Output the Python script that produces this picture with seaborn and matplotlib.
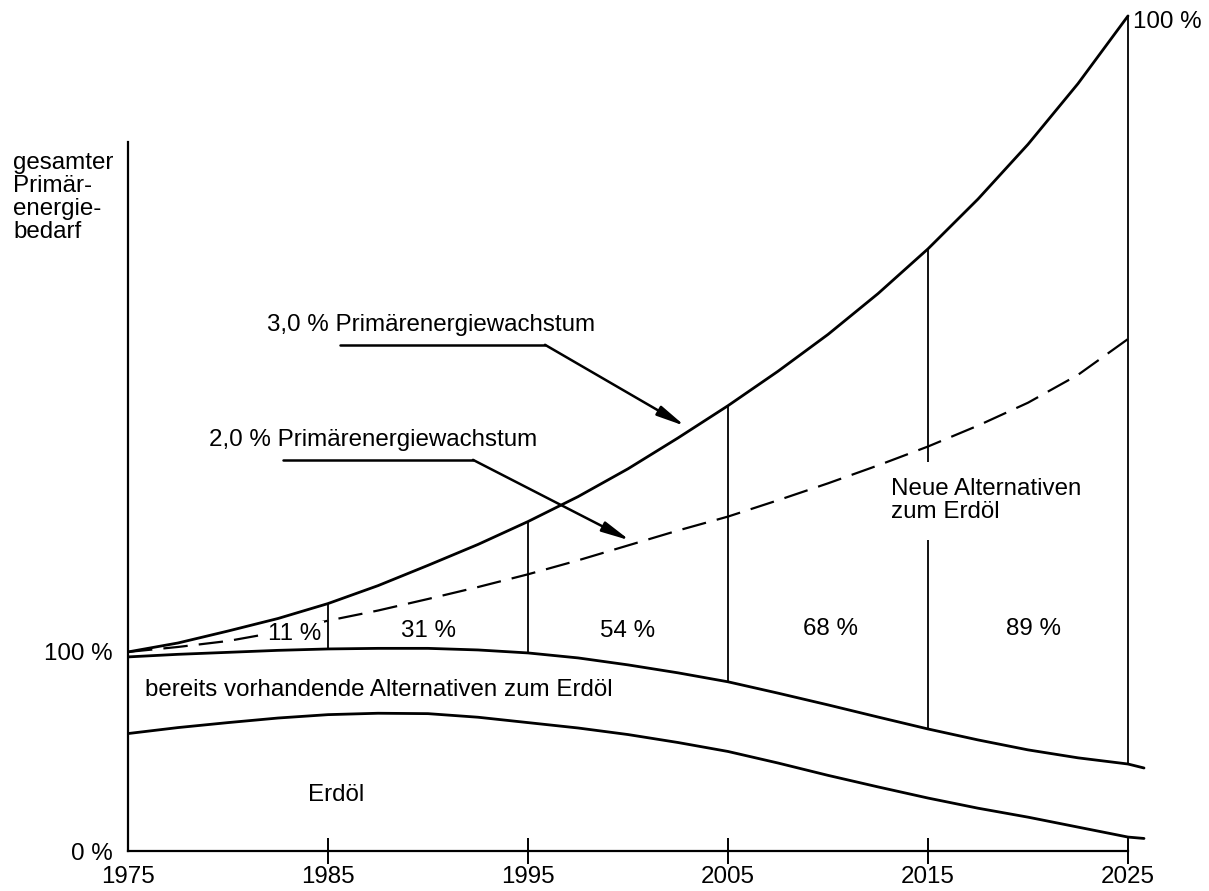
import matplotlib
matplotlib.use("Agg")
import matplotlib.pyplot as plt
import seaborn as sns
import pandas as pd

# Stuetzstellen alle 2,5 Jahre, Werte in % vom Bedarf 1975
jahre = [1975, 1977.5, 1980, 1982.5, 1985, 1987.5, 1990, 1992.5, 1995, 1997.5,
         2000, 2002.5, 2005, 2007.5, 2010, 2012.5, 2015, 2017.5, 2020, 2022.5, 2025]
wachstum_3 = [100, 104.5, 110.5, 116.8, 124.3, 133.3, 143.5, 154, 165.5, 178,
              192, 207.5, 223.7, 241, 259.5, 280, 302.5, 327.5, 355, 385.5, 419.5]
wachstum_2 = [100, 102.5, 105.5, 110, 115.7, 120.8, 126.6, 132.6, 139, 146,
              153.5, 161, 168, 176.2, 184.7, 193.7, 203.2, 213.7, 225.2, 239.2, 257.2]

# untere Kurven laufen etwas ueber 2025 hinaus
jahre_unten = jahre + [2025.8]
alternativen_alt = [97.5, 98.8, 99.8, 100.8, 101.5, 101.8, 101.8, 101, 99.5, 97,
                    93.5, 89.5, 85, 79.3, 73.4, 67.3, 61.3, 55.8, 50.8, 46.8, 43.7, 41.7]
erdoel = [59, 62, 64.5, 66.8, 68.5, 69.2, 69, 67.2, 64.5, 61.8,
          58.5, 54.5, 50, 44.2, 38, 32.2, 26.6, 21.5, 17, 12, 7, 6.3]

marken = [1985, 1995, 2005, 2015, 2025]
anteil_neu = ["11 %", "31 %", "54 %", "68 %", "89 %"]
anteil_x = [1983.35, 1990, 2000, 2010.1, 2020.25]
anteil_y = [109, 110.5, 110.5, 111.5, 111.5]

x_ticks = [1975, 1985, 1995, 2005, 2015, 2025]
y_ticks = [0, 100]
y_ticklabels = ["0 %", "100 %"]

sns.set_theme(style="white")
plt.rcParams["font.family"] = ["Liberation Sans", "DejaVu Sans"]
plt.rcParams["text.color"] = "black"
FS = 17.4

fig = plt.figure(figsize=(12.09, 8.91), dpi=100)
ax = fig.add_axes([128 / 1209, 40 / 891, 1080 / 1209, 848 / 891])

df = pd.DataFrame({"Jahr": jahre, "w3": wachstum_3, "w2": wachstum_2})
dfu = pd.DataFrame({"Jahr": jahre_unten, "alt": alternativen_alt, "oel": erdoel})

sns.lineplot(data=df, x="Jahr", y="w3", color="black", lw=2.0, zorder=4, ax=ax)
sns.lineplot(data=df, x="Jahr", y="w2", color="black", lw=1.6, zorder=3, ax=ax)
ax.lines[-1].set_dashes((11, 5))
sns.lineplot(data=dfu, x="Jahr", y="alt", color="black", lw=2.0, zorder=4, ax=ax)
sns.lineplot(data=dfu, x="Jahr", y="oel", color="black", lw=2.0, zorder=4, ax=ax)

# senkrechte Trennlinien zwischen vorhandenen Alternativen und Gesamtbedarf
oben = df.set_index("Jahr")["w3"].loc[marken].values
unten = dfu.set_index("Jahr")["alt"].loc[marken].values
ax.vlines(marken, unten, oben, color="black", lw=1.3, zorder=1.5)

for i, (txt, x, y) in enumerate(zip(anteil_neu, anteil_x, anteil_y)):
    if i == 0:
        # die gestrichelte Linie endet vor der Zahl
        ax.text(x, y, txt, ha="center", va="center", fontsize=FS, zorder=3.5,
                bbox=dict(boxstyle="square,pad=0.1", fc="white", ec="none"))
    else:
        ax.text(x, y, txt, ha="center", va="center", fontsize=FS)

ax.text(2013.15, 176, "Neue Alternativen\nzum Erdöl", ha="left", va="center",
        fontsize=FS, linespacing=1.02, zorder=2,
        bbox=dict(boxstyle="square,pad=0.7", fc="white", ec="none"))
ax.text(1975.85, 81, "bereits vorhandende Alternativen zum Erdöl",
        ha="left", va="center", fontsize=FS)
ax.text(1984, 28, "Erdöl", ha="left", va="center", fontsize=FS)
ax.text(2025.25, 416.5, "100 %", ha="left", va="center", fontsize=FS)

# Beschriftungen mit Pfeil
pfeile = [
    ("3,0 % Primärenergiewachstum", (1981.95, 264), (1985.6, 1995.85, 254.3), (2002.85, 213.5)),
    ("2,0 % Primärenergiewachstum", (1979.05, 206.5), (1982.75, 1992.25, 196.5), (2000.1, 156)),
]
for txt, pos, (x0, x1, yl), tip in pfeile:
    ax.text(pos[0], pos[1], txt, ha="left", va="center", fontsize=FS)
    ax.plot([x0, x1], [yl, yl], color="black", lw=1.8)
    ax.annotate("", xy=tip, xytext=(x1, yl),
                arrowprops=dict(arrowstyle="-|>,head_length=0.85,head_width=0.16",
                                mutation_scale=20, color="black", lw=1.8,
                                shrinkA=0, shrinkB=0))

ax.set_xlim(1975, 2029)
ax.set_ylim(0, 426)
ax.set_xlabel("")
ax.set_ylabel("")

for s in ["top", "right"]:
    ax.spines[s].set_visible(False)
for s in ["left", "bottom"]:
    ax.spines[s].set_color("black")
    ax.spines[s].set_linewidth(1.6)
ax.spines["left"].set_bounds(0, 356)
ax.spines["bottom"].set_bounds(1975, 2025)

ax.set_xticks(x_ticks)
ax.set_xticklabels([str(j) for j in x_ticks])
ax.tick_params(axis="x", direction="inout", length=19, width=1.4, color="black",
               pad=1.5, labelsize=FS, labelcolor="black", bottom=True)
ax.xaxis.get_major_ticks()[0].tick1line.set_visible(False)
ax.set_yticks(y_ticks)
ax.set_yticklabels(y_ticklabels)
ax.tick_params(axis="y", length=0, pad=11, labelsize=FS, labelcolor="black")

fig.text(13 / 1209, 1 - 152 / 891, "gesamter\nPrimär-\nenergie-\nbedarf",
         ha="left", va="top", fontsize=FS, linespacing=1.06)

fig.savefig("out.png", dpi=100, facecolor="white")
